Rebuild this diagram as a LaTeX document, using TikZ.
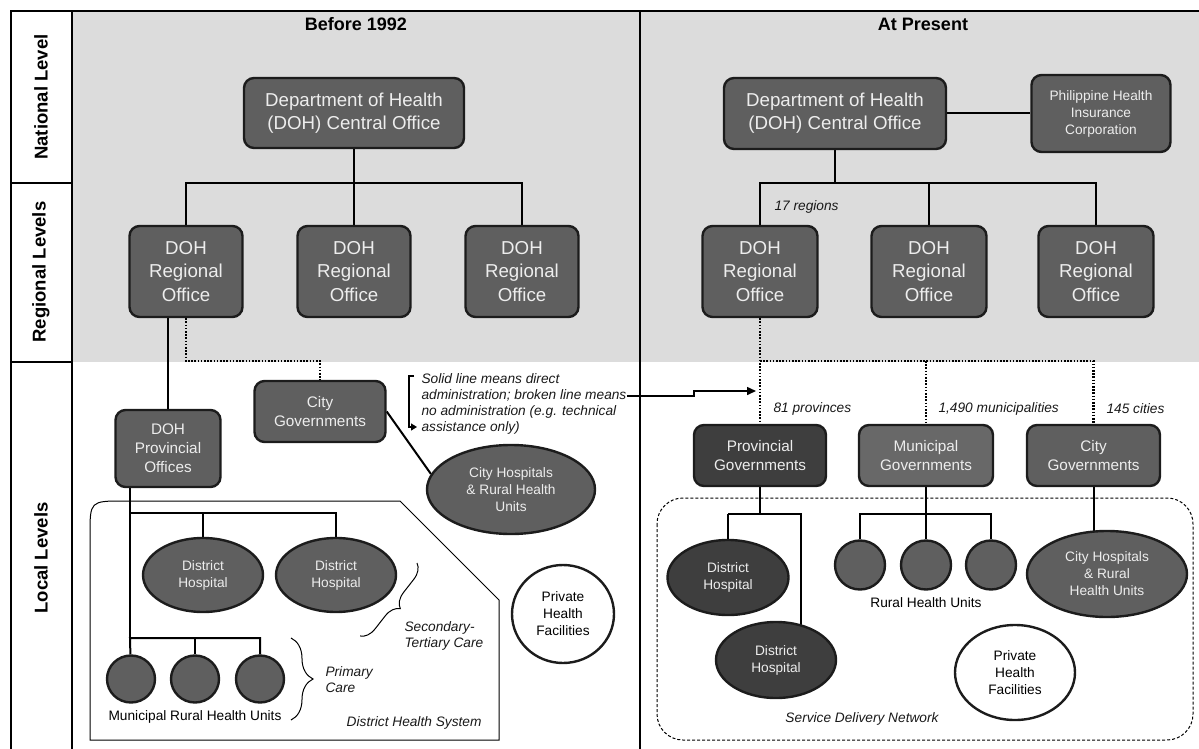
\documentclass[tikz,border=0pt]{standalone}
\usepackage{fontspec}
\setmainfont{Liberation Sans}
\usetikzlibrary{shapes.geometric,arrows.meta,decorations.pathreplacing,calc}
\pgfdeclarelayer{bg}
\pgfsetlayers{bg,main}
\definecolor{bgray}{HTML}{DCDCDC}
\definecolor{boxg}{HTML}{5F5F5F}
\definecolor{boxd}{HTML}{3E3E3E}
\definecolor{boxm}{HTML}{686868}
\definecolor{txtw}{HTML}{EDEDED}
\definecolor{edge}{HTML}{1C1C1C}
\definecolor{thin}{HTML}{555555}
\begin{document}
\begin{tikzpicture}[x=1pt,y=-1pt,
  box/.style={draw=edge,line width=2.4pt,rounded corners=10pt,fill=boxg,text=txtw,align=center,inner sep=0pt},
  bigf/.style={font=\fontsize{18.7}{23.3}\selectfont},
  midf/.style={font=\fontsize{15.3}{19}\selectfont},
  smf/.style={font=\fontsize{13.7}{17}\selectfont},
  ell/.style={ellipse,draw=edge,line width=2.4pt,fill=boxg,text=txtw,align=center,inner sep=0pt},
  whiteell/.style={ellipse,draw=edge,line width=2.4pt,fill=white,text=black,align=center,inner sep=0pt,font=\fontsize{13.7}{17}\selectfont},
  conn/.style={line width=2pt,draw=black},
  dotl/.style={line width=2.2pt,dash pattern=on 1.6pt off 1.6pt},
  lab/.style={font=\fontsize{13.7}{16}\selectfont\itshape,text=black!90},
  levlab/.style={font=\fontsize{18.5}{22}\selectfont\bfseries,rotate=90},
  ttl/.style={font=\fontsize{18}{22}\selectfont\bfseries}
]
\useasboundingbox (0,0) rectangle (1199,749);
\begin{pgfonlayer}{bg}
\fill[bgray] (72,11) rectangle (1199,362);
\end{pgfonlayer}
% frame
\draw[line width=2pt] (11,749) -- (11,11) -- (1199,11);
\draw[line width=2pt] (72,11) -- (72,749);
\draw[line width=2pt] (640,11) -- (640,749);
\draw[line width=2pt] (11,183) -- (72,183);
\draw[line width=2pt] (11,362) -- (72,362);
\node[levlab] (lnat) at (41,97) {National Level};
\node[levlab] (lreg) at (41,272) {Regional Levels};
\node[levlab] (lloc) at (41,558) {Local Levels};
\node[ttl] (t1) at (356,24) {Before 1992};
\node[ttl] (t2) at (923,24) {At Present};

% ---------- left panel ----------
\node[box,bigf,minimum width=220pt,minimum height=70pt] (cL) at (354,113) {Department of Health\\(DOH) Central Office};
\node[box,bigf,minimum width=113pt,minimum height=91pt] (rL1) at (186,271.5) {DOH\\Regional\\Office};
\node[box,bigf,minimum width=113pt,minimum height=91pt] (rL2) at (354,271.5) {DOH\\Regional\\Office};
\node[box,bigf,minimum width=113pt,minimum height=91pt] (rL3) at (522,271.5) {DOH\\Regional\\Office};
\node[box,midf,minimum width=105pt,minimum height=77pt] (provL) at (168,448.5) {DOH\\Provincial\\Offices};
\node[box,midf,minimum width=131pt,minimum height=61pt] (cityL) at (320,411.5) {City\\Governments};
\node[ell,smf,minimum width=168pt,minimum height=89pt] (chL) at (511,489.5) {City Hospitals\\\& Rural Health\\Units};
\node[ell,smf,minimum width=120pt,minimum height=74pt] (dh1L) at (203,575) {District\\Hospital};
\node[ell,smf,minimum width=120pt,minimum height=74pt] (dh2L) at (336,575) {District\\Hospital};
\node[ell,minimum width=48pt,minimum height=47pt] (rhuL1) at (131,679) {};
\node[ell,minimum width=48pt,minimum height=47pt] (rhuL2) at (195,679) {};
\node[ell,minimum width=48pt,minimum height=47pt] (rhuL3) at (260,679) {};
\node[whiteell,minimum width=102pt,minimum height=98pt] (privL) at (563,614) {Private\\Health\\Facilities};
\node[font=\fontsize{13.7}{16}\selectfont] (mrhu) at (195,717) {Municipal Rural Health Units};
\node[lab,anchor=west,align=left] (pc) at (322,680) {Primary\\Care};
\node[lab,anchor=west,align=left] (stc) at (401,636) {Secondary-\\Tertiary Care};
\node[lab,anchor=east] (dhs) at (485,723) {District Health System};
\node[lab,anchor=west,align=left] (annot) at (418,404) {Solid line means direct\\administration; broken line means\\no administration (e.g. technical\\assistance only)};

% district health system outline
\draw[thin,line width=1pt] (90,740) -- (90,535) .. controls (90,501) .. (124,501) -- (400,501) -- (499,600) -- (499,740) -- cycle;

% braces
\draw[thin,line width=1pt,decorate,decoration={brace,amplitude=22pt}] (291,638) -- (291,720);
\draw[thin,line width=1pt,decorate,decoration={brace,amplitude=15pt}] (417,563) -- (360,636);

% ---------- right panel ----------
\node[box,bigf,minimum width=222pt,minimum height=71pt] (cR) at (835,113.5) {Department of Health\\(DOH) Central Office};
\node[box,smf,minimum width=139pt,minimum height=77pt] (ph) at (1101,113.5) {Philippine Health\\Insurance\\Corporation};
\node[box,bigf,minimum width=115pt,minimum height=91pt] (rR1) at (760,271.5) {DOH\\Regional\\Office};
\node[box,bigf,minimum width=115pt,minimum height=91pt] (rR2) at (929,271.5) {DOH\\Regional\\Office};
\node[box,bigf,minimum width=115pt,minimum height=91pt] (rR3) at (1096,271.5) {DOH\\Regional\\Office};
\node[box,midf,fill=boxd,minimum width=132pt,minimum height=61pt] (pgov) at (760,455.5) {Provincial\\Governments};
\node[box,midf,fill=boxm,minimum width=134pt,minimum height=61pt] (mgov) at (926,455.5) {Municipal\\Governments};
\node[box,midf,minimum width=133pt,minimum height=61pt] (cgov) at (1093.5,455.5) {City\\Governments};
\node[ell,smf,fill=boxd,minimum width=121pt,minimum height=75pt] (dh1R) at (728,577.5) {District\\Hospital};
\node[ell,smf,fill=boxd,minimum width=120pt,minimum height=76pt] (dh2R) at (776,660) {District\\Hospital};
\node[ell,minimum width=50pt,minimum height=49pt] (rhuR1) at (860,565) {};
\node[ell,minimum width=50pt,minimum height=49pt] (rhuR2) at (926,565) {};
\node[ell,minimum width=50pt,minimum height=49pt] (rhuR3) at (991,565) {};
\node[ell,smf,minimum width=160pt,minimum height=86pt] (chR) at (1107,574) {City Hospitals\\\& Rural\\Health Units};
\node[whiteell,minimum width=120pt,minimum height=95pt] (privR) at (1015,672.5) {Private\\Health\\Facilities};
\node[font=\fontsize{13.7}{16}\selectfont] (rhul) at (926,603) {Rural Health Units};
\node[lab,anchor=west] (n17) at (771,207) {17 regions};
\node[lab,anchor=west] (n81) at (770,409) {81 provinces};
\node[lab,anchor=west] (n1490) at (935,409) {1,490 municipalities};
\node[lab,anchor=west] (n145) at (1103,409) {145 cities};
\node[lab] (sdn) at (862,719) {Service Delivery Network};
\draw[thin,line width=1pt,dash pattern=on 3pt off 2pt,rounded corners=26pt] (657,498) rectangle (1193,740);

% ---------- connectors ----------
\coordinate (jL) at (354,183);
\coordinate (dL) at (186,361);
\coordinate (lj1) at (130,513);
\coordinate (lj2) at (130,638);
\coordinate (jR) at (835,183);
\coordinate (dR) at (760,361);
\coordinate (pj) at (760,514);
\coordinate (mj) at (926,514);
\begin{pgfonlayer}{bg}
\draw[conn] (cL) -- (jL);
\draw[conn] (rL1) |- (jL) -| (rL3);
\draw[conn] (jL) -- (rL2);
\draw[conn] (rL1.center -| provL) -- (provL);
\draw[dotl] (rL1) -- (dL) -| (cityL);
\draw[conn] (cityL.east) -- (chL.169);
\draw[conn] ([xshift=-38pt]provL.center) -- (lj2);
\draw[conn] (lj1) -| (dh2L);
\draw[conn] (dh1L.center |- lj1) -- (dh1L);
\draw[conn] (rhuL1) -- (lj2) -| (rhuL3);
\draw[conn] (rhuL2.center |- lj2) -- (rhuL2);
\draw[conn] (cR) -- (ph);
\draw[conn] (cR) -- (jR);
\draw[conn] (rR1) |- (jR) -| (rR3);
\draw[conn] (rR2.center |- jR) -- (rR2);
\draw[dotl] (rR1) -- (pgov);
\draw[dotl] (dR) -| (cgov);
\draw[dotl] (mgov.center |- dR) -- (mgov);
\draw[conn] (pgov) -- (pj);
\draw[conn] (dh1R.center |- pj) -- (dh1R);
\draw[conn] (dh1R.center |- pj) -| ([xshift=25pt]dh2R.center);
\draw[conn] (mgov) -- (mj);
\draw[conn] (rhuR1) |- (mj) -| (rhuR3);
\draw[conn] (mj) -- (rhuR2);
\draw[conn] (cgov) -- (cgov |- chR);
\end{pgfonlayer}

% annotation arrows
\coordinate (bk1) at (414,376);
\coordinate (bk2) at (409,376);
\coordinate (bk3) at (409,427);
\coordinate (bk4) at (417,427);
\draw[line width=1.2pt,-{Triangle[length=6pt,width=7pt]}] (bk1) -- (bk2) -- (bk3) -- (bk4);
\coordinate (ar1) at (627,396);
\coordinate (ar2) at (694,396);
\coordinate (ar3) at (694,391);
\coordinate (ar4) at (756,391);
\draw[line width=1.5pt,-{Triangle[length=9pt,width=8pt]}] (ar1) -- (ar2) -- (ar3) -- (ar4);
\end{tikzpicture}
\end{document}
